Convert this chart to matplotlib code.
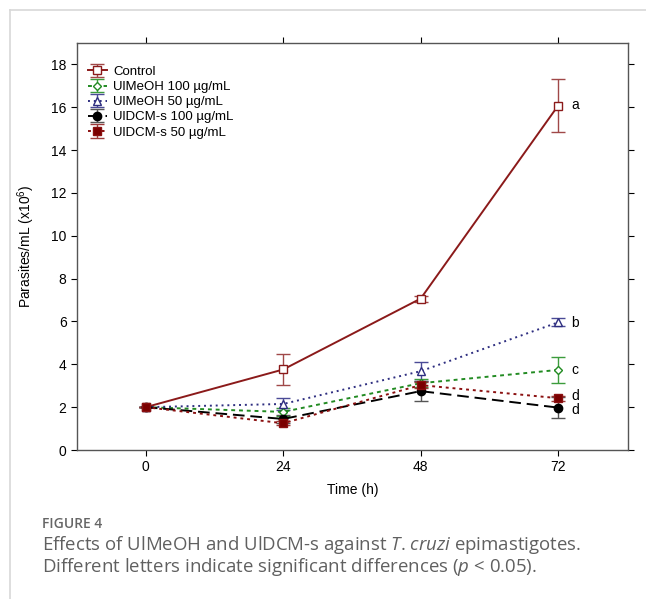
import matplotlib.pyplot as plt
from matplotlib.lines import Line2D

plt.rcParams['font.family'] = ['Liberation Sans', 'DejaVu Sans']
plt.rcParams['mathtext.fontset'] = 'custom'
plt.rcParams['mathtext.rm'] = 'Liberation Sans'
plt.rcParams['mathtext.it'] = 'Open Sans:italic'

# time points (h)
time_h = [0, 24, 48, 72]

# mean parasites/mL (x10^6) and error
control = [2.0, 3.76, 7.07, 16.08]
control_err = [0.0, 0.72, 0.14, 1.25]
meoh_100 = [2.0, 1.78, 3.12, 3.74]
meoh_100_err = [0.0, 0.2, 0.2, 0.62]
meoh_50 = [2.0, 2.15, 3.68, 5.96]
meoh_50_err = [0.0, 0.3, 0.45, 0.18]
dcm_100 = [2.0, 1.45, 2.75, 1.98]
dcm_100_err = [0.0, 0.2, 0.48, 0.5]
dcm_50 = [2.0, 1.25, 3.03, 2.42]
dcm_50_err = [0.0, 0.1, 0.15, 0.12]

letters = ['a', 'b', 'c', 'd', 'd']
letter_y = [16.1, 5.95, 3.75, 2.5, 1.86]

fig = plt.figure(figsize=(6.46, 5.99), dpi=100)
ax = fig.add_axes([0.1192, 0.2487, 0.853, 0.6795])

# (values, errors, label, line colour, errorbar colour, linestyle, marker, marker face)
series = [
    (control, control_err, 'Control', '#8b1a1a', '#a04848', '-', 's', 'white'),
    (meoh_100, meoh_100_err, 'UlMeOH 100 µg/mL', '#228b22', '#3c9c3c', (0, (2, 2)), 'D', 'white'),
    (meoh_50, meoh_50_err, 'UlMeOH 50 µg/mL', '#2e2e80', '#4a4a96', (0, (1, 2)), '^', 'white'),
    (dcm_100, dcm_100_err, 'UlDCM-s 100 µg/mL', '#000000', '#555555', (0, (6, 3)), 'o', '#000000'),
    (dcm_50, dcm_50_err, 'UlDCM-s 50 µg/mL', '#8b1010', '#9c3a3a', (0, (1.5, 2)), 's', '#7a0000'),
]

for vals, errs, label, col, ecol, ls, mk, mfc in series:
    msize = 4.5 if mk == 'D' else 6
    ax.errorbar(time_h, vals, yerr=errs, label=label, color=col, ecolor=ecol,
                linestyle=ls, linewidth=1.4, marker=mk, markersize=msize,
                markerfacecolor=mfc, markeredgecolor=col, markeredgewidth=1.0,
                capsize=5, elinewidth=1.0, capthick=1.0)

for lt, ly in zip(letters, letter_y):
    ax.text(74.3, ly, lt, fontsize=10, va='center', ha='left')

ax.set_xlim(-12, 84.2)
ax.set_ylim(0, 19)
ax.set_xticks(time_h)
ax.set_yticks(range(0, 19, 2))
ax.tick_params(axis='both', labelsize=10, direction='out', length=4, width=0.8)
ax.tick_params(top=True, right=True, labeltop=False, labelright=False)
ax.set_xlabel('Time (h)', fontsize=10, labelpad=6)
ax.set_ylabel('Parasites/mL (x10$^6$)', fontsize=10, labelpad=10)
for sp in ax.spines.values():
    sp.set_color('#555555')
    sp.set_linewidth(1.0)

ax.legend(loc='upper left', bbox_to_anchor=(0.0, 0.97), frameon=False,
          fontsize=9.5, labelspacing=0.22, handlelength=1.5, handletextpad=0.45,
          borderaxespad=0.4)

# page frame lines
fig.add_artist(Line2D([10 / 646, 1.0], [1 - 10 / 599, 1 - 10 / 599],
                      transform=fig.transFigure, color='#d8d8d8', linewidth=1.2))
fig.add_artist(Line2D([10 / 646, 10 / 646], [0.0, 1 - 10 / 599],
                      transform=fig.transFigure, color='#d8d8d8', linewidth=1.2))

# caption
cap_font = ['Open Sans', 'DejaVu Sans']
fig.text(42 / 646, 1 - 524 / 599, 'FIGURE 4', fontsize=10, color='#666666',
         family=cap_font, weight='semibold', va='center')
fig.text(42 / 646, 1 - 545 / 599,
         'Effects of UlMeOH and UlDCM-s against $T$. $cruzi$ epimastigotes.',
         fontsize=13.4, color='#606060', family=cap_font, va='center')
fig.text(42 / 646, 1 - 567 / 599,
         'Different letters indicate significant differences ($p$ < 0.05).',
         fontsize=13.4, color='#606060', family=cap_font, va='center')

fig.savefig('out.png', dpi=100)
